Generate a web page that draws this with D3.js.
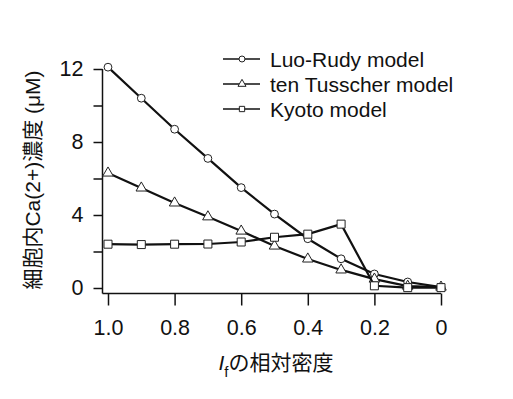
<!DOCTYPE html>
<html>
<head>
<meta charset="utf-8">
<script src="https://cdn.jsdelivr.net/npm/d3@7"></script>
<style>
  body { margin: 0; background: #fff; }
  text { font-family: Arial, "Liberation Sans", "Noto Sans CJK JP", sans-serif; }
</style>
</head>
<body>
<div id="chart"></div>
<script>
var density = [1.0, 0.9, 0.8, 0.7, 0.6, 0.5, 0.4, 0.3, 0.2, 0.1, 0];
var luoRudy = [12.1, 10.4, 8.7, 7.1, 5.5, 4.05, 2.7, 1.6, 0.77, 0.33, 0.05];
var tenTusscher = [6.3, 5.48, 4.66, 3.9, 3.12, 2.3, 1.59, 0.99, 0.49, 0.1, 0.05];
var kyoto = [2.4, 2.38, 2.4, 2.41, 2.52, 2.78, 2.95, 3.5, 0.12, 0.02, 0.02];
var xTicks = [1.0, 0.8, 0.6, 0.4, 0.2, 0];
var xTickLabels = ['1.0', '0.8', '0.6', '0.4', '0.2', '0'];
var yTicks = [0, 2, 4, 6, 8, 10, 12];
var yTickLabels = {0: '0', 4: '4', 8: '8', 12: '12'};

var series = [
  {name: 'Luo-Rudy model', values: luoRudy, symbol: d3.symbolCircle},
  {name: 'ten Tusscher model', values: tenTusscher, symbol: d3.symbolTriangle},
  {name: 'Kyoto model', values: kyoto, symbol: d3.symbolSquare}
];

var W = 513, H = 399;
var svg = d3.select('#chart').append('svg')
    .attr('width', W)
    .attr('height', H);

var x = d3.scaleLinear().domain([1.0, 0]).range([108, 441]);
var y = d3.scaleLinear().domain([0, 12]).range([288, 69]);

// Y axis
var yAxis = d3.axisLeft(y)
    .tickValues(yTicks)
    .tickSize(9)
    .tickPadding(10)
    .tickFormat(function (d) { return yTickLabels[d] || ''; });

var yg = svg.append('g')
    .attr('transform', 'translate(102.5,0)')
    .call(yAxis);
yg.select('.domain').attr('d', 'M0,69V293.5');

// X axis
var xAxis = d3.axisBottom(x)
    .tickValues(xTicks)
    .tickSize(12)
    .tickPadding(14)
    .tickFormat(function (d, i) { return xTickLabels[i]; });

var xg = svg.append('g')
    .attr('transform', 'translate(0,293.5)')
    .call(xAxis);
xg.select('.domain').attr('d', 'M102.5,0H441');

svg.selectAll('.tick text')
    .style('font-size', '21.5px')
    .attr('fill', '#111');
svg.selectAll('.domain, .tick line')
    .attr('stroke', '#111')
    .attr('stroke-width', 1.5);

// Lines and markers
var line = d3.line()
    .x(function (d, i) { return x(density[i]); })
    .y(function (d) { return y(d); });

var groups = svg.selectAll('.series')
    .data(series)
    .enter().append('g')
    .attr('class', 'series');

groups.append('path')
    .attr('d', function (d) { return line(d.values); })
    .attr('fill', 'none')
    .attr('stroke', '#111')
    .attr('stroke-width', 2.2);

groups.each(function (s) {
  d3.select(this).selectAll('.pt')
    .data(s.values)
    .enter().append('path')
    .attr('class', 'pt')
    .attr('d', d3.symbol().type(s.symbol).size(s.symbol === d3.symbolSquare ? 64 : 48))
    .attr('transform', function (d, i) {
      return 'translate(' + x(density[i]) + ',' + y(d) + ')';
    })
    .attr('fill', '#fff')
    .attr('stroke', '#222')
    .attr('stroke-width', 1);
});

// Legend
var legend = svg.append('g');
var rows = legend.selectAll('g')
    .data(series)
    .enter().append('g')
    .attr('transform', function (d, i) { return 'translate(223,' + (59 + i * 25) + ')'; });

rows.append('line')
    .attr('x1', 0).attr('x2', 37)
    .attr('stroke', '#111')
    .attr('stroke-width', 1.5);
rows.append('path')
    .attr('d', function (d) { return d3.symbol().type(d.symbol).size(28)(); })
    .attr('transform', 'translate(19,0)')
    .attr('fill', '#fff')
    .attr('stroke', '#222');
rows.append('text')
    .attr('x', 47)
    .attr('dy', '0.36em')
    .style('font-size', '21px')
    .attr('fill', '#111')
    .text(function (d) { return d.name; });

// Axis titles
svg.append('text')
    .attr('transform', 'translate(33,180) rotate(-90)')
    .attr('text-anchor', 'middle')
    .attr('dy', '0.35em')
    .style('font-size', '21px')
    .attr('fill', '#111')
    .text('細胞内Ca(2+)濃度 (μM)');

var xt = svg.append('text')
    .attr('x', 276)
    .attr('y', 370)
    .attr('text-anchor', 'middle')
    .style('font-size', '21px')
    .attr('fill', '#111');
xt.append('tspan').style('font-style', 'italic').text('I');
xt.append('tspan').attr('dy', 7).style('font-size', '15px').text('f');
xt.append('tspan').attr('dy', -7).text('の相対密度');
</script>
</body>
</html>
